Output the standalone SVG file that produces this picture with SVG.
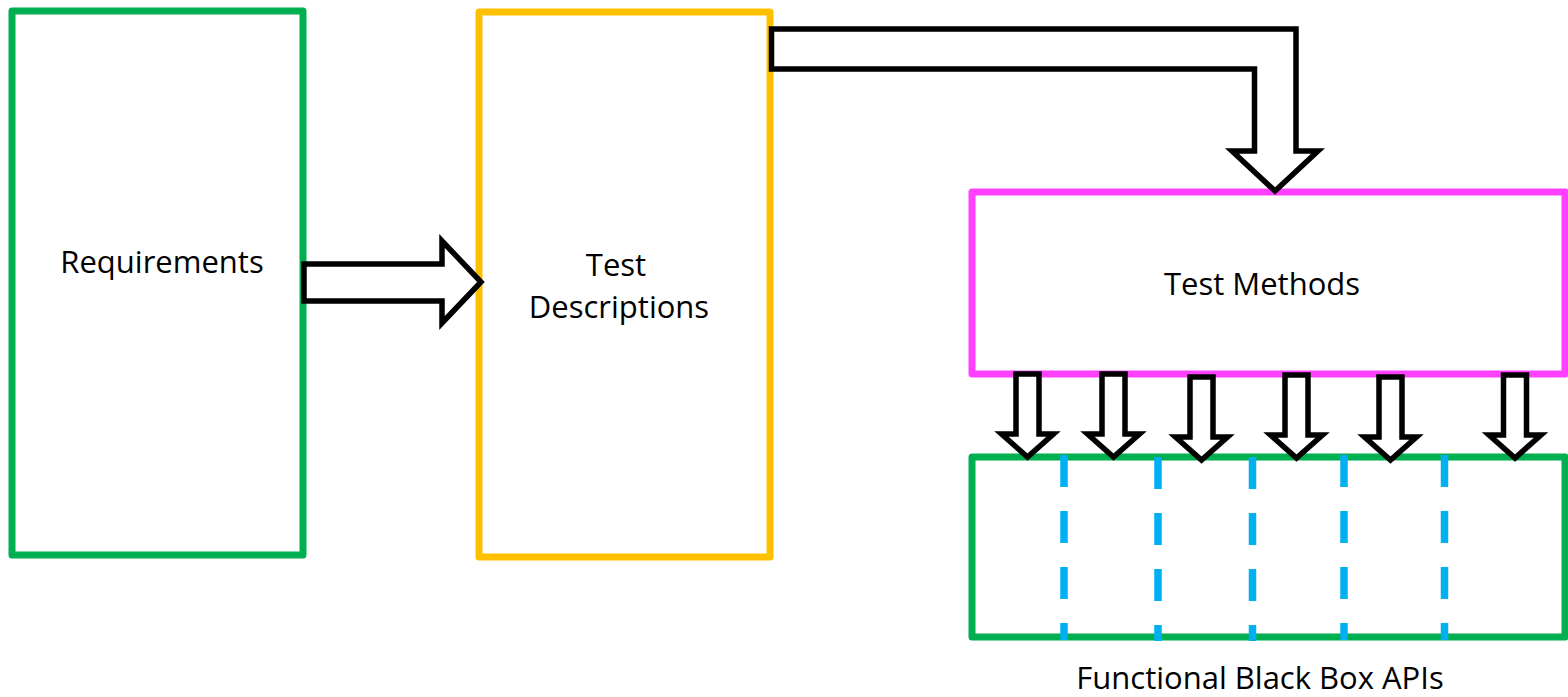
<svg xmlns="http://www.w3.org/2000/svg" width="1568" height="697" viewBox="0 0 1568 697">
  <style>
    .box { fill: #ffffff; stroke-width: 7; stroke-linejoin: round; }
    .green { stroke: #00B050; }
    .yellow { stroke: #FFC000; }
    .magenta { stroke: #FF40FF; }
    .label { font-family: "Open Sans", "Noto Sans", "Liberation Sans", sans-serif; font-size: 31px; fill: #000000; text-anchor: middle; }
    .block { fill: #ffffff; stroke: #000000; stroke-width: 5.5; stroke-linejoin: miter; }
    .divider { stroke: #00B0F0; stroke-width: 7.5; stroke-dasharray: 32 24; fill: none; }
  </style>
  <defs>
    <!-- hollow down arrow, top of shaft at origin -->
    <path id="down-arrow" d="M -11.5 0 L 11.5 0 L 11.5 60 L 26 60 L 0 83 L -26 60 L -11.5 60 Z"/>
  </defs>

  <rect width="1568" height="697" fill="#ffffff"/>

  <g id="requirements">
    <rect class="box green" x="12" y="11" width="291" height="544"/>
    <text class="label" x="162" y="273">Requirements</text>
  </g>

  <g id="test-descriptions">
    <rect class="box yellow" x="479" y="12" width="291" height="545"/>
    <text class="label" x="616" y="276">Test</text>
    <text class="label" x="619" y="318">Descriptions</text>
  </g>

  <g id="test-methods">
    <rect class="box magenta" x="972" y="192" width="593" height="182"/>
    <text class="label" x="1262" y="295">Test Methods</text>
  </g>

  <g id="functional-black-box-apis">
    <rect class="box green" x="972" y="457" width="593" height="180"/>
    <line class="divider" x1="1064" y1="455" x2="1064" y2="640"/>
    <line class="divider" x1="1158" y1="457" x2="1158" y2="641"/>
    <line class="divider" x1="1252.5" y1="457" x2="1252.5" y2="641"/>
    <line class="divider" x1="1344" y1="455" x2="1344" y2="640"/>
    <line class="divider" x1="1444.5" y1="455" x2="1444.5" y2="640"/>
    <text class="label" x="1260" y="689">Functional Black Box APIs</text>
  </g>

  <g id="connectors">
    <!-- Requirements to Test Descriptions -->
    <path class="block" d="M 304 264 L 442 264 L 442 241 L 481 282 L 442 323 L 442 301 L 304 301 Z"/>
    <!-- Test Descriptions to Test Methods -->
    <path class="block" d="M 771.5 29 L 1296 29 L 1296 151 L 1318 151 L 1275 191 L 1232 151 L 1254.5 151 L 1254.5 69 L 771.5 69 Z"/>
    <!-- Test Methods to the APIs -->
    <use href="#down-arrow" class="block" x="1027.5" y="374"/>
    <use href="#down-arrow" class="block" x="1113.5" y="374"/>
    <use href="#down-arrow" class="block" x="1201.5" y="377"/>
    <use href="#down-arrow" class="block" x="1296.5" y="375"/>
    <use href="#down-arrow" class="block" x="1390.5" y="377"/>
    <use href="#down-arrow" class="block" x="1515" y="375"/>
  </g>
</svg>
